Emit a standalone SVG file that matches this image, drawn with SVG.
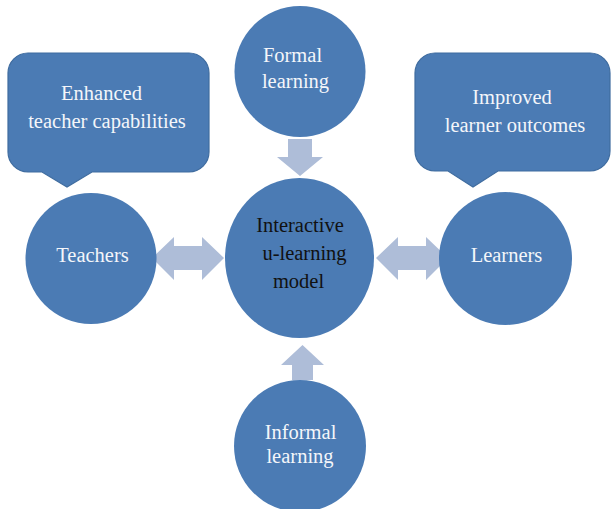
<svg xmlns="http://www.w3.org/2000/svg" width="611" height="509" viewBox="0 0 611 509">
<style>
.node{fill:#4b7bb4;}
.callout{fill:#4b7bb4;stroke:#3f6c9f;stroke-width:1.2;}
.arrow{fill:#aebdd8;}
.t{font-family:"Liberation Serif","Times New Roman",serif;font-size:20.5px;fill:#f4f6fa;text-anchor:middle;}
.tc{font-family:"Liberation Serif","Times New Roman",serif;font-size:20.5px;fill:#111;text-anchor:middle;}
</style>
<rect width="611" height="509" fill="#fff"/>
<g id="connectors">
<path class="arrow" d="M288,139 H312 V157 H323 L300,176 L277,157 H288 Z"/>
<path class="arrow" d="M292,380 V365 H281 L302.5,345 L324,365 H313 V380 Z"/>
<path class="arrow" d="M152,258 L174,237 V246 H202 V237 L224,258 L202,280 V270 H174 V280 Z"/>
<path class="arrow" d="M376,258 L398,237 V246 H426 V237 L448,258 L426,280 V270 H398 V280 Z"/>
</g>
<g id="callout-teachers">
<path class="callout" d="M28,53 H189 A20,20 0 0 1 209,73 V152 A20,20 0 0 1 189,172 H92 L67,187 L42,172 H28 A20,20 0 0 1 8,152 V73 A20,20 0 0 1 28,53 Z"/>
<text class="t" x="101.5" y="100">Enhanced</text>
<text class="t" x="107" y="128">teacher capabilities</text>
</g>
<g id="callout-learners">
<path class="callout" d="M435,53 H590 A20,20 0 0 1 610,73 V151 A20,20 0 0 1 590,171 H498 L473,187 L448,171 H435 A20,20 0 0 1 415,151 V73 A20,20 0 0 1 435,53 Z"/>
<text class="t" x="512" y="104">Improved</text>
<text class="t" x="515" y="132">learner outcomes</text>
</g>
<g id="formal">
<circle class="node" cx="300" cy="71.5" r="65.5"/>
<text class="t" x="292.5" y="62">Formal</text>
<text class="t" x="295.5" y="88">learning</text>
</g>
<g id="center">
<ellipse class="node" cx="299.5" cy="258" rx="74.5" ry="80"/>
<text class="tc" x="300" y="232">Interactive</text>
<text class="tc" x="304.5" y="260">u-learning</text>
<text class="tc" x="298.5" y="288">model</text>
</g>
<g id="teachers">
<circle class="node" cx="91" cy="258.5" r="65.5"/>
<text class="t" x="92.5" y="262">Teachers</text>
</g>
<g id="learners">
<circle class="node" cx="505.5" cy="258.5" r="66.5"/>
<text class="t" x="506.5" y="262">Learners</text>
</g>
<g id="informal">
<circle class="node" cx="300" cy="446" r="66"/>
<text class="t" x="300.5" y="439">Informal</text>
<text class="t" x="300" y="463">learning</text>
</g>
</svg>
